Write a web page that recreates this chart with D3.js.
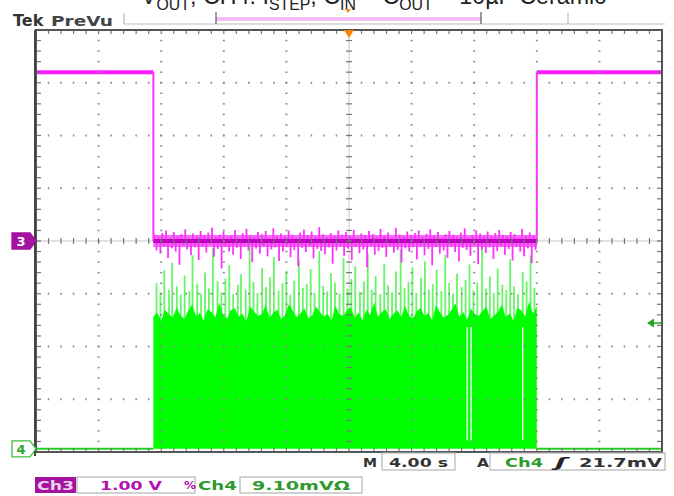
<!DOCTYPE html>
<html><head><meta charset="utf-8">
<script src="https://cdn.jsdelivr.net/npm/d3@7"></script>
<style>body{margin:0;background:#fff}svg{display:block}</style>
</head><body>
<svg id="c" width="674" height="496"></svg>
<script>
// ---------- data ----------
const titleParts = [
  {t:"V"},{t:"OUT",sub:true},{t:", CH4: I"},{t:"STEP",sub:true},{t:", C"},{t:"IN",sub:true},
  {t:" = C"},{t:"OUT",sub:true},{t:" = 10µF Ceramic"}
];
const timeDomain = [0, 40];        // s (4.00 s/div, 10 div)
const ch3Scale = 1.00;             // V/div
const ch4Scale = 9.10;             // mV/div
const ch4Position = -3.94;         // div (ground marker)
const stepTimes = [7.5, 32.0];     // s
const ch3Levels = [3.2, 0.0, 3.2]; // V
const ch3Spikes = [0.12,-0.18,0.08,-0.24,0.15,-0.1,0.2,-0.32,0.06,-0.14,0.17,-0.2,0.1,-0.45,0.13,-0.08,0.22,-0.16,0.05,-0.27,
0.14,-0.12,0.09,-0.36,0.19,-0.1,0.11,-0.22,0.16,-0.07,0.25,-0.3,0.08,-0.15,0.12,-0.52,0.18,-0.11,0.07,-0.2,
0.1,-0.26,0.21,-0.13,0.06,-0.34,0.15,-0.09,0.23,-0.18,0.11,-0.4,0.08,-0.14,0.17,-0.24,0.13,-0.1,0.19,-0.29,
0.07,-0.16,0.24,-0.12,0.1,-0.38,0.14,-0.2,0.09,-0.11,0.2,-0.31,0.12,-0.17,0.06,-0.48,0.16,-0.13,0.22,-0.21,
0.11,-0.09,0.18,-0.33,0.08,-0.15,0.26,-0.19,0.13,-0.25,0.07,-0.12,0.15,-0.43,0.1,-0.18,0.2,-0.1,0.12,-0.28,
0.17,-0.14,0.09,-0.36,0.21,-0.11,0.06,-0.23,0.14,-0.16,0.11,-0.5,0.19,-0.08,0.13,-0.26,0.08,-0.19,0.23,-0.13,
0.1,-0.3,0.16,-0.1,0.07,-0.22,0.25,-0.17,0.12,-0.41,0.09,-0.14,0.18,-0.2,0.11,-0.12,0.15,-0.35,0.2,-0.09,
0.08,-0.27,0.14,-0.15,0.22,-0.46,0.1,-0.11,0.17,-0.24,0.06,-0.18,0.13,-0.32,0.19,-0.1,0.12,-0.21,0.09,-0.39,
0.16,-0.13,0.24,-0.17,0.07,-0.28,0.11,-0.08,0.2,-0.44,0.14,-0.16,0.1,-0.23,0.18,-0.12,0.08,-0.34,0.15,-0.19,
0.21,-0.1,0.12,-0.26,0.09,-0.15,0.17,-0.37,0.13,-0.11,0.06,-0.2,0.23,-0.29,0.1,-0.14,0.16,-0.42,0.11,-0.17]; // V
const ch4Fill = [22.8,23.5,22.1,24.0,23.2,22.6,24.4,23.0,22.4,23.8,24.9,22.9,23.4,22.2,24.1,23.6,22.7,25.2,23.1,22.5,23.9,24.3,22.8,23.3,22.0,24.6,23.7,22.9,23.2,24.8,22.6,23.5,24.0,22.3,23.1,25.0,23.8,22.7,23.4,24.2,22.5,23.0,24.5,23.6,22.8,23.3,22.1,24.7,23.2,22.9,23.9,24.4,22.6,23.5,22.2,24.0,23.1,25.3,22.8,23.6,24.1,22.4,23.3,23.9,22.7,24.6,23.0,22.5,23.7,24.3,22.9,23.4,22.2,24.8,23.5,22.6,23.1,24.0,25.1,22.8,23.6,22.3,24.2,23.2,22.9,23.8,24.5,22.4,23.0,23.7,24.9,22.7,23.4,22.1,24.3,23.9,22.8,25.4,23.3,24.6]; // mV
const ch4SpikeTimes = [7.7,7.95,8.2,8.5,8.7,9.0,9.25,9.5,9.8,10.0,10.3,10.55,10.8,11.05,11.3,11.6,11.85,12.1,12.35,12.6,12.9,13.1,13.4,13.65,13.9,14.15,14.45,14.7,14.95,15.2,15.5,15.75,16.0,16.25,16.5,16.8,17.05,17.3,17.55,17.8,18.1,18.35,18.6,18.85,19.1,19.4,19.65,19.9,20.15,20.4,20.7,20.95,21.2,21.45,21.7,22.0,22.25,22.5,22.75,23.0,23.3,23.55,23.8,24.05,24.3,24.6,24.85,25.1,25.35,25.6,25.9,26.15,26.4,26.65,26.9,27.2,27.45,27.7,27.95,28.2,28.5,28.75,29.0,29.25,29.5,29.8,30.05,30.3,30.55,30.8,31.1,31.35,31.6,31.85]; // s
const ch4SpikeLevels = [28.6,26.9,30.8,27.4,32.1,28.0,26.6,29.9,27.2,33.4,28.5,26.8,30.4,27.7,34.6,28.9,27.0,29.4,31.7,26.7,28.3,30.1,27.5,35.0,28.8,26.9,31.2,27.9,29.6,33.1,27.3,28.6,30.7,26.6,29.0,32.6,27.8,28.4,31.0,26.9,34.1,28.1,27.2,30.3,28.7,26.8,32.9,27.6,29.3,31.5,27.1,28.9,33.7,27.4,29.8,26.7,31.9,28.2,27.0,30.6,34.4,27.7,28.8,31.3,26.9,29.5,32.3,27.5,28.4,30.9,27.2,33.5,28.6,26.8,30.2,27.9,29.1,31.8,27.3,28.7,34.9,27.6,29.7,26.9,31.1,28.3,27.4,32.7,28.0,26.7,30.5,28.9,33.3,27.8]; // mV
const ch4Gaps = [27.55, 27.8, 31.1]; // s
const triggerLevel = 21.7; // mV
const statusRow1 = {m:"M", time:"4.00 s", a:"A", src:"Ch4", slope:"ʃ", level:"21.7mV"};
const statusRow2 = {ch3:"Ch3", ch3Scale:"1.00 V", bw:"%", ch4:"Ch4", ch4Scale:"9.10mVΩ"};

// ---------- layout ----------
const svg = d3.select("#c");
const X0=36, X1=662, Y0=30, Y1=452;
const x = d3.scaleLinear().domain(timeDomain).range([X0, X1]);
const y3 = d3.scaleLinear().domain([-4*ch3Scale, 4*ch3Scale]).range([Y1, Y0]);
const y4 = d3.scaleLinear().domain([(-4-ch4Position)*ch4Scale, (4-ch4Position)*ch4Scale]).range([Y1, Y0]);
const divT = (timeDomain[1]-timeDomain[0])/10;
const minorT = d3.range(timeDomain[0], timeDomain[1]+1e-9, divT/5);
const minorV = d3.range(-4, 4+1e-9, 0.2).map(v=>v*ch3Scale);

svg.append("rect").attr("width",674).attr("height",496).attr("fill","#fff");

// ---------- title (clipped at top, as in the reference) ----------
const title = svg.append("text").attr("x",141).attr("y",4)
  .attr("font-family","Liberation Sans, Arial, sans-serif").attr("font-size",22).attr("fill","#222");
let subOn=false;
titleParts.forEach(p=>{
  const ts = title.append("tspan").text(p.t);
  if(p.sub && !subOn){ts.attr("dy",5.5).attr("font-size",15); subOn=true;}
  else if(p.sub){ts.attr("font-size",15);}
  else if(subOn){ts.attr("dy",-5.5); subOn=false;}
});
{
  const w = title.node().getComputedTextLength();
  const k = 465/w;
  title.attr("font-size",22*k);
  title.selectAll("tspan").each(function(){
    const s=d3.select(this);
    if(s.attr("font-size")) s.attr("font-size",15*k);
    if(s.attr("dy")) s.attr("dy",+s.attr("dy")*k);
  });
}

// ---------- Tek PreVu + record ruler ----------
svg.append("text").attr("x",13).attr("y",26).text("Tek")
  .attr("font-family","DejaVu Sans, sans-serif").attr("font-weight","bold").attr("font-size",16).attr("fill","#333");
svg.append("text").attr("x",51).attr("y",26).text("PreVu")
  .attr("font-family","DejaVu Sans, sans-serif").attr("font-weight","bold").attr("font-size",14).attr("fill","#444")
  .attr("textLength",62).attr("lengthAdjust","spacingAndGlyphs");
svg.append("line").attr("x1",124).attr("x2",665).attr("y1",24).attr("y2",24).attr("stroke","#bbb").attr("stroke-width",1.2);
[124,568].forEach(px=>svg.append("line").attr("x1",px).attr("x2",px).attr("y1",13).attr("y2",24).attr("stroke","#bbb").attr("stroke-width",1.2));
svg.append("rect").attr("x",216).attr("y",17).attr("width",265).attr("height",4).attr("fill","#f2bdf2");
[216,481].forEach(px=>svg.append("line").attr("x1",px).attr("x2",px).attr("y1",12).attr("y2",24).attr("stroke","#666").attr("stroke-width",1.3));
svg.append("path").attr("d",`M${345},9 L${351},9 L${348},13 Z`).attr("fill","#ff8c1a");

// ---------- faint center lines ----------
svg.append("line").attr("x1",X0).attr("x2",X1).attr("y1",y3(0)).attr("y2",y3(0)).attr("stroke","#e2e2e2").attr("stroke-width",2);
svg.append("line").attr("x1",x(20)).attr("x2",x(20)).attr("y1",Y0).attr("y2",Y1).attr("stroke","#e2e2e2").attr("stroke-width",2);

// ---------- CH4 (green) ----------
const g4 = svg.append("g");
const nF = ch4Fill.length;
const fillPts = ch4Fill.map((v,i)=>({t: stepTimes[0] + i*(stepTimes[1]-stepTimes[0])/(nF-1), v}));
g4.selectAll("line.sp").data(ch4SpikeTimes.map((t,i)=>({t,v:ch4SpikeLevels[i]}))).join("line")
  .attr("x1",d=>x(d.t)).attr("x2",d=>x(d.t)).attr("y1",y4(20)).attr("y2",d=>y4(d.v))
  .attr("stroke","#66f566").attr("stroke-width",1.8);
g4.append("path").datum(fillPts)
  .attr("d", d3.area().x(d=>x(d.t)).y0(y4(0)).y1(d=>y4(d.v)).curve(d3.curveLinear))
  .attr("fill","#00ff00");
g4.selectAll("line.gap").data(ch4Gaps).join("line")
  .attr("x1",d=>x(d)).attr("x2",d=>x(d)).attr("y1",y4(21)).attr("y2",y4(1.5))
  .attr("stroke","#fff").attr("stroke-width",1.3);
[[timeDomain[0],stepTimes[0]],[stepTimes[1],timeDomain[1]]].forEach(seg=>{
  g4.append("line").attr("x1",x(seg[0])).attr("x2",x(seg[1])).attr("y1",y4(0)).attr("y2",y4(0))
    .attr("stroke","#22d022").attr("stroke-width",2);
});

// ---------- CH3 (magenta) ----------
const g3 = svg.append("g");
const hiLine = d3.line().x(d=>x(d[0])).y(d=>y3(d[1]));
g3.append("path").datum([[timeDomain[0],ch3Levels[0]],[stepTimes[0],ch3Levels[0]]]).attr("d",hiLine)
  .attr("stroke","#ff1aff").attr("stroke-width",4).attr("fill","none");
g3.append("path").datum([[stepTimes[1],ch3Levels[2]],[timeDomain[1],ch3Levels[2]]]).attr("d",hiLine)
  .attr("stroke","#ff1aff").attr("stroke-width",4).attr("fill","none");
[0,1].forEach(i=>{
  g3.append("line").attr("x1",x(stepTimes[i])).attr("x2",x(stepTimes[i]))
    .attr("y1",y3(ch3Levels[i])).attr("y2",y3(ch3Levels[i+1])).attr("stroke","#ff33ff").attr("stroke-width",2);
});
g3.append("line").attr("x1",x(stepTimes[0])).attr("x2",x(stepTimes[1])).attr("y1",y3(0)).attr("y2",y3(0))
  .attr("stroke","#f46cf4").attr("stroke-width",12);
const nS = ch3Spikes.length;
const spikeT = i => stepTimes[0]+0.08+i*(stepTimes[1]-stepTimes[0]-0.16)/(nS-1);
g3.selectAll("line.sp").data(ch3Spikes).join("line")
  .attr("x1",(d,i)=>x(spikeT(i))).attr("x2",(d,i)=>x(spikeT(i)))
  .attr("y1",y3(0)).attr("y2",d=>y3(d))
  .attr("stroke","#ff30ff").attr("stroke-width",1.8);
g3.append("line").attr("x1",x(stepTimes[0])).attr("x2",x(stepTimes[1])).attr("y1",y3(0)).attr("y2",y3(0))
  .attr("stroke","#c000c0").attr("stroke-width",4);

// ---------- graticule ----------
const gg = svg.append("g").attr("fill","#888");
for(let k=1;k<10;k++){
  if(k===5) continue;
  const px = x(timeDomain[0]+k*divT);
  minorV.slice(1,-1).forEach(v=>gg.append("rect").attr("x",px-1).attr("y",y3(v)-0.75).attr("width",2).attr("height",1.5));
}
for(let j=1;j<8;j++){
  if(j===4) continue;
  const py = y3((-4+j)*ch3Scale);
  minorT.slice(1,-1).forEach(t=>gg.append("rect").attr("x",x(t)-0.75).attr("y",py-1).attr("width",1.5).attr("height",2));
}
const tk = svg.append("g").attr("stroke","#777").attr("stroke-width",1.2);
minorT.slice(1,-1).forEach(t=>{
  const px=x(t);
  tk.append("line").attr("x1",px).attr("x2",px).attr("y1",y3(0)-3).attr("y2",y3(0)+3);
  tk.append("line").attr("x1",px).attr("x2",px).attr("y1",Y0).attr("y2",Y0+4);
  tk.append("line").attr("x1",px).attr("x2",px).attr("y1",Y1-4).attr("y2",Y1);
});
minorV.slice(1,-1).forEach(v=>{
  const py=y3(v);
  tk.append("line").attr("x1",x(20)-3).attr("x2",x(20)+3).attr("y1",py).attr("y2",py);
  tk.append("line").attr("x1",X0).attr("x2",X0+5).attr("y1",py).attr("y2",py);
  tk.append("line").attr("x1",X1-5).attr("x2",X1).attr("y1",py).attr("y2",py);
});
svg.append("rect").attr("x",X0).attr("y",Y0).attr("width",X1-X0).attr("height",Y1-Y0)
  .attr("fill","none").attr("stroke","#555").attr("stroke-width",2);
svg.append("line").attr("x1",X0-1).attr("x2",X0-1).attr("y1",Y0).attr("y2",Y1+4).attr("stroke","#444").attr("stroke-width",2);

// trigger position marker
svg.append("path").attr("d",`M${x(20)-5},${Y0} L${x(20)+5},${Y0} L${x(20)},${Y0+8} Z`).attr("fill","#ff8000");

// ---------- channel markers ----------
function tag(yc, fill, stroke, label, color){
  const p = `M12,${yc-8} L30,${yc-8} L36,${yc} L30,${yc+8} L12,${yc+8} Z`;
  svg.append("path").attr("d",p).attr("fill",fill).attr("stroke",stroke).attr("stroke-width",1.3);
  svg.append("text").attr("x",21).attr("y",yc+5).attr("text-anchor","middle").text(label)
    .attr("font-family","DejaVu Sans, sans-serif").attr("font-weight","bold").attr("font-size",13).attr("fill",color);
}
tag(y3(0), "#a3139f", "#a3139f", "3", "#fff");
tag(y4(0), "#fff", "#3cbf3c", "4", "#2ea82e");

// trigger level arrow
const ty = y4(triggerLevel);
svg.append("path").attr("d",`M${X1-15},${ty} L${X1-8},${ty-4.5} L${X1-8},${ty+4.5} Z`).attr("fill","#1fa31f");
svg.append("line").attr("x1",X1-9).attr("x2",X1).attr("y1",ty).attr("y2",ty).attr("stroke","#1fa31f").attr("stroke-width",1.5);

// ---------- status bar ----------
const F = "DejaVu Sans, Verdana, sans-serif";
function txt(xp, yp, s, len, color){
  const t = svg.append("text").attr("x",xp).attr("y",yp).text(s)
    .attr("font-family",F).attr("font-weight","bold").attr("font-size",13).attr("fill",color);
  if(len) t.attr("textLength",len).attr("lengthAdjust","spacingAndGlyphs");
  return t;
}
function box(x0,y0,w,h){svg.append("rect").attr("x",x0).attr("y",y0).attr("width",w).attr("height",h).attr("fill","none").attr("stroke","#b5b5b5").attr("stroke-width",1.2);}
box(382,453,73,17); box(490,453,175,17);
txt(363,467,statusRow1.m,14,"#333");
txt(389,467,statusRow1.time,59,"#333");
txt(477,467,statusRow1.a,12,"#333");
txt(505,467,statusRow1.src,38,"#2e9a2e");
txt(555,467,statusRow1.slope,12,"#222").attr("font-style","italic");
txt(579,467,statusRow1.level,83,"#333");

svg.append("rect").attr("x",35).attr("y",477).attr("width",41).attr("height",16).attr("fill","#a3139f");
txt(37,490,statusRow2.ch3,37,"#f0d0f0");
box(77,477,118,16);
txt(100,490,statusRow2.ch3Scale,62,"#b30fb3");
txt(184,489,statusRow2.bw,12,"#b30fb3").attr("font-size",11);
txt(198,490,statusRow2.ch4,39,"#2e9a2e");
box(240,477,122,16);
txt(252,490,statusRow2.ch4Scale,98,"#2e9a2e");
</script>
</body></html>
